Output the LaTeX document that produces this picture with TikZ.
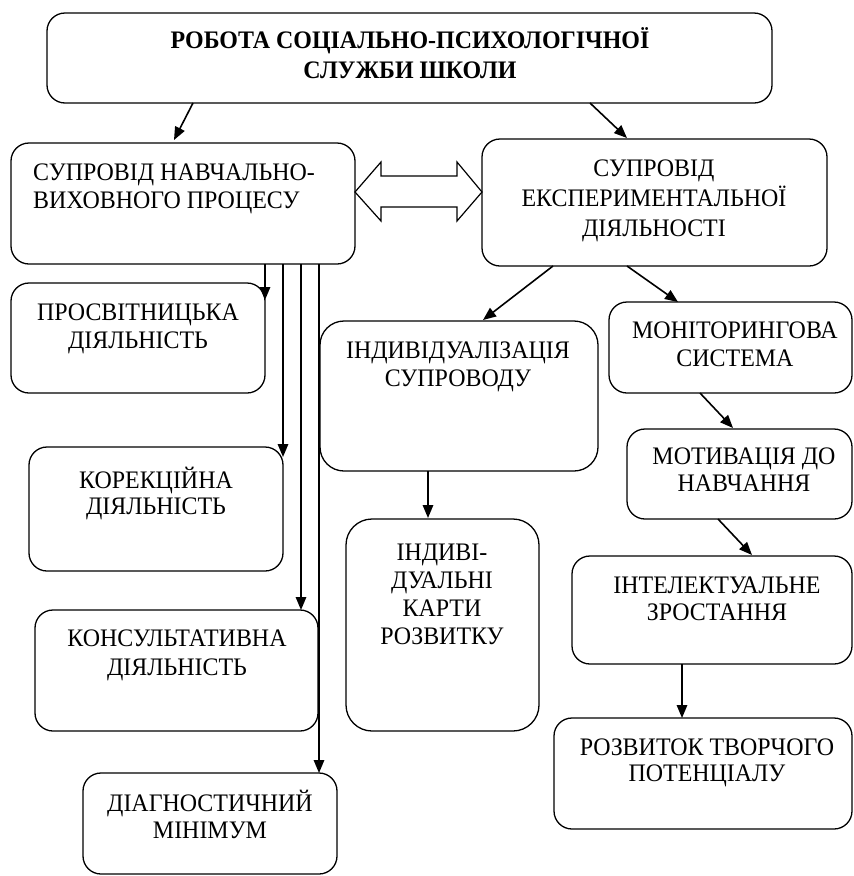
\documentclass[tikz,border=0pt]{standalone}
\usepackage{fontspec}
\setmainfont[FakeStretch=0.95]{Liberation Serif}
\usetikzlibrary{arrows.meta}
\tikzset{
  box/.style={draw, line width=1.3pt, rounded corners=#1, anchor=north west, inner sep=0pt, outer sep=0pt},
  box/.default=18pt,
  txt/.style={font=\fontsize{25.2}{#1}\selectfont, align=center, inner sep=0pt, anchor=north},
  arr/.style={line width=1.6pt, -{Triangle[length=13pt,width=10.5pt]}},
}
\begin{document}
\begin{tikzpicture}[x=1pt,y=-1pt]
\useasboundingbox (0,0) rectangle (854,876);
% boxes
\node[box, minimum width=725pt, minimum height=90pt] (top) at (47,13) {};
\node[box, minimum width=344pt, minimum height=121pt] (A) at (11,143) {};
\node[box, minimum width=345pt, minimum height=127pt] (B) at (482,139) {};
\node[box, minimum width=254pt, minimum height=110pt] (P) at (11,283) {};
\node[box, minimum width=254pt, minimum height=124pt] (K) at (29,447) {};
\node[box, minimum width=283pt, minimum height=121pt] (Ks) at (35,610) {};
\node[box, minimum width=254pt, minimum height=101pt] (D) at (83,773) {};
\node[box=24pt, minimum width=278pt, minimum height=150pt] (I) at (320,321) {};
\node[box=26pt, minimum width=193pt, minimum height=212pt] (ID) at (346,519) {};
\node[box, minimum width=243pt, minimum height=91pt] (M) at (609,302) {};
\node[box, minimum width=225pt, minimum height=90pt] (Mo) at (627,429) {};
\node[box, minimum width=280pt, minimum height=108pt] (It) at (572,556) {};
\node[box, minimum width=298pt, minimum height=111pt] (R) at (554,718) {};
% texts (north = first-line centre + 8.4 - 0.7*baselineskip)
\node[txt=30, font=\fontsize{25.2}{30}\selectfont\bfseries] (topt) at (410,27.4) {\strut РОБОТА СОЦІАЛЬНО-ПСИХОЛОГІЧНОЇ\\СЛУЖБИ ШКОЛИ};
\node[txt=28, anchor=north west, align=left] (At) at (33,160.8) {\strut СУПРОВІД НАВЧАЛЬНО-\\ВИХОВНОГО ПРОЦЕСУ};
\node[txt=30] (Bt) at (654,155.4) {\strut СУПРОВІД\\ЕКСПЕРИМЕНТАЛЬНОЇ\\ДІЯЛЬНОСТІ};
\node[txt=28] (Pt) at (138,300.8) {\strut ПРОСВІТНИЦЬКА\\ДІЯЛЬНІСТЬ};
\node[txt=26] (Kt) at (156,467.2) {\strut КОРЕКЦІЙНА\\ДІЯЛЬНІСТЬ};
\node[txt=29] (Kst) at (177,626.1) {\strut КОНСУЛЬТАТИВНА\\ДІЯЛЬНІСТЬ};
\node[txt=27] (Dt) at (210,789.5) {\strut ДІАГНОСТИЧНИЙ\\МІНІМУМ};
\node[txt=28] (It1) at (458,338.8) {\strut ІНДИВІДУАЛІЗАЦІЯ\\СУПРОВОДУ};
\node[txt=28] (IDt) at (442,540.8) {\strut ІНДИВІ-\\ДУАЛЬНІ\\КАРТИ\\РОЗВИТКУ};
\node[txt=28] (Mt) at (735,318.8) {\strut МОНІТОРИНГОВА\\СИСТЕМА};
\node[txt=27] (Mot) at (744,445.5) {\strut МОТИВАЦІЯ ДО\\НАВЧАННЯ};
\node[txt=27] (Itt) at (717,574.5) {\strut ІНТЕЛЕКТУАЛЬНЕ\\ЗРОСТАННЯ};
\node[txt=26] (Rt) at (707,737.2) {\strut РОЗВИТОК ТВОРЧОГО\\ПОТЕНЦІАЛУ};
% double block arrow between A and B
\draw[line width=1.2pt, fill=white] (A.east |- 0,192) -- (381,162) -- (381,176) -- (457,176) -- (457,162)
  -- (B.west |- 0,192) -- (457,221) -- (457,207) -- (381,207) -- (381,221) -- cycle;
% connectors
\draw[arr] ([xshift=146pt]top.south west) -- ([xshift=163pt,yshift=3pt]A.north west);
\draw[arr] ([xshift=543pt]top.south west) -- ([xshift=145pt,yshift=1pt]B.north west);
\draw[arr] ([xshift=254pt]A.south west) -- ([yshift=-17pt]P.north east);
\draw[arr] ([xshift=272pt]A.south west) -- ([yshift=-10pt]K.north east);
\draw[arr] ([xshift=290pt]A.south west) -- ([xshift=290pt]A.south west |- Ks.north);
\draw[arr] ([xshift=308pt]A.south west) -- ([xshift=308pt]A.south west |- D.north);
\draw[arr] ([xshift=71pt]B.south west) -- ([xshift=163pt,yshift=1pt]I.north west);
\draw[arr] ([xshift=145pt]B.south west) -- ([xshift=69pt]M.north west);
\draw[arr] ([xshift=91pt]M.south west) -- ([xshift=106pt,yshift=1pt]Mo.north west);
\draw[arr] ([xshift=91pt]Mo.south west) -- ([xshift=180pt,yshift=1pt]It.north west);
\draw[arr] ([xshift=110pt]It.south west) -- ([xshift=128pt]R.north west);
\draw[arr] ([xshift=108pt]I.south west) -- ([xshift=82pt,yshift=1pt]ID.north west);
\end{tikzpicture}
\end{document}
